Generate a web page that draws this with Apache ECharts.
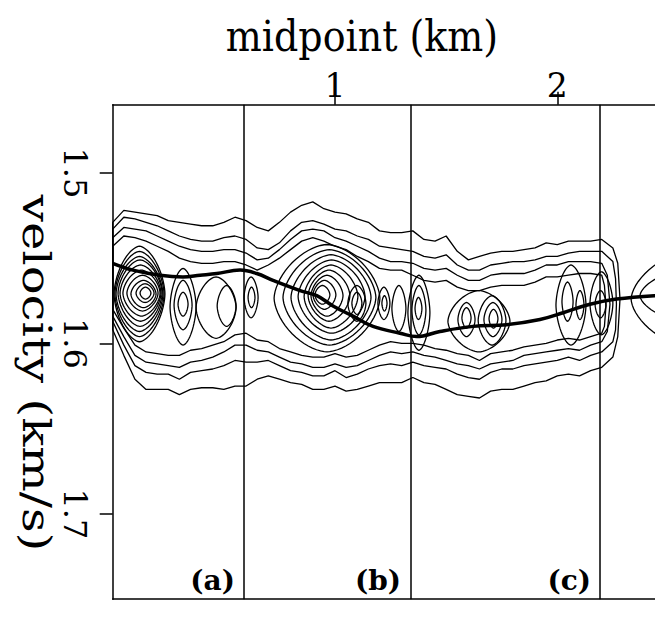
<!DOCTYPE html>
<html>
<head>
<meta charset="utf-8">
<script src="https://cdn.jsdelivr.net/npm/echarts@6/dist/echarts.min.js"></script>
<style>
  html, body { margin: 0; padding: 0; background: #fff; }
  #chart { width: 655px; height: 634px; }
</style>
</head>
<body>
<div id="chart"></div>
<script>
// midpoint samples (km) for the outer contour bands
const midpoints = [0, 0.05, 0.1, 0.15, 0.2, 0.25, 0.3, 0.35, 0.4, 0.45,
  0.5, 0.55, 0.6, 0.65, 0.7, 0.75, 0.8, 0.85, 0.9, 0.95,
  1.0, 1.05, 1.1, 1.15, 1.2, 1.25, 1.3, 1.35, 1.4, 1.45,
  1.5, 1.55, 1.6, 1.65, 1.7, 1.75, 1.8, 1.85, 1.9, 1.95,
  2.0, 2.05, 2.1, 2.15, 2.2, 2.25];

// outer contours: upper and lower edge (km/s) at each midpoint
const band1Top = [1.529, 1.522, 1.523, 1.524, 1.525, 1.528, 1.529, 1.530, 1.531, 1.531,
  1.529, 1.526, 1.528, 1.532, 1.534, 1.529, 1.523, 1.519, 1.517, 1.521,
  1.523, 1.524, 1.527, 1.529, 1.534, 1.535, 1.535, 1.534, 1.539, 1.540,
  1.537, 1.546, 1.551, 1.549, 1.547, 1.546, 1.546, 1.545, 1.544, 1.541,
  1.542, 1.540, 1.540, 1.540, 1.539, 1.544];
const band1Bottom = [1.592, 1.607, 1.621, 1.627, 1.627, 1.627, 1.630, 1.627, 1.626, 1.626,
  1.627, 1.625, 1.625, 1.621, 1.619, 1.621, 1.623, 1.624, 1.627, 1.627,
  1.625, 1.628, 1.627, 1.625, 1.623, 1.623, 1.623, 1.620, 1.623, 1.624,
  1.627, 1.630, 1.631, 1.632, 1.628, 1.627, 1.627, 1.625, 1.623, 1.622,
  1.619, 1.618, 1.619, 1.616, 1.614, 1.608];
const band1Cap = [[2.272, 1.553], [2.282, 1.574], [2.272, 1.596]];

const band2Top = [1.533, 1.526, 1.527, 1.529, 1.531, 1.534, 1.537, 1.539, 1.540, 1.540,
  1.538, 1.537, 1.539, 1.544, 1.545, 1.541, 1.534, 1.529, 1.528, 1.530,
  1.533, 1.534, 1.537, 1.539, 1.543, 1.544, 1.545, 1.546, 1.549, 1.550,
  1.548, 1.554, 1.557, 1.557, 1.554, 1.553, 1.552, 1.552, 1.551, 1.549,
  1.549, 1.547, 1.546, 1.546, 1.546, 1.552];
const band2Bottom = [1.587, 1.601, 1.613, 1.617, 1.618, 1.618, 1.621, 1.617, 1.616, 1.615,
  1.613, 1.610, 1.611, 1.611, 1.610, 1.613, 1.616, 1.617, 1.619, 1.619,
  1.616, 1.620, 1.618, 1.615, 1.613, 1.612, 1.613, 1.611, 1.613, 1.614,
  1.615, 1.618, 1.620, 1.621, 1.617, 1.615, 1.615, 1.613, 1.612, 1.611,
  1.610, 1.608, 1.610, 1.607, 1.605, 1.599];
const band2Cap = [[2.262, 1.562], [2.266, 1.577], [2.262, 1.592]];

const band3Top = [1.538, 1.532, 1.533, 1.534, 1.537, 1.540, 1.543, 1.545, 1.546, 1.546,
  1.545, 1.545, 1.547, 1.551, 1.550, 1.545, 1.539, 1.534, 1.533, 1.534,
  1.538, 1.540, 1.543, 1.546, 1.550, 1.552, 1.552, 1.553, 1.556, 1.557,
  1.556, 1.560, 1.563, 1.563, 1.560, 1.559, 1.559, 1.559, 1.557, 1.554,
  1.554, 1.552, 1.552, 1.552, 1.553];
const band3Bottom = [1.584, 1.596, 1.607, 1.611, 1.612, 1.613, 1.614, 1.611, 1.610, 1.608,
  1.605, 1.601, 1.601, 1.604, 1.605, 1.608, 1.611, 1.612, 1.614, 1.614,
  1.612, 1.614, 1.613, 1.610, 1.607, 1.605, 1.606, 1.605, 1.607, 1.608,
  1.610, 1.612, 1.613, 1.615, 1.612, 1.611, 1.610, 1.607, 1.606, 1.605,
  1.604, 1.603, 1.604, 1.601, 1.599];
const band3Cap = [[2.225, 1.560], [2.237, 1.577], [2.225, 1.593]];

const band4Top = [1.543, 1.537, 1.538, 1.540, 1.543, 1.546, 1.550, 1.552, 1.553, 1.553,
  1.552, 1.552, 1.554, 1.557, 1.554, 1.550, 1.545, 1.540, 1.538, 1.540,
  1.543, 1.545, 1.549, 1.552, 1.556, 1.557, 1.557, 1.560, 1.563, 1.564,
  1.563, 1.567, 1.569, 1.569, 1.567, 1.566, 1.566, 1.566, 1.564, 1.561,
  1.561, 1.560, 1.559, 1.559, 1.560];
const band4Bottom = [1.580, 1.591, 1.601, 1.605, 1.606, 1.607, 1.607, 1.604, 1.603, 1.601,
  1.599, 1.595, 1.594, 1.598, 1.599, 1.603, 1.605, 1.607, 1.608, 1.608,
  1.606, 1.608, 1.607, 1.604, 1.601, 1.599, 1.600, 1.600, 1.601, 1.603,
  1.604, 1.606, 1.607, 1.610, 1.606, 1.605, 1.604, 1.602, 1.601, 1.600,
  1.598, 1.597, 1.598, 1.596, 1.594];
const band4Cap = [[2.212, 1.566], [2.219, 1.578], [2.212, 1.590]];

// closed inner contours: [midpoint left, midpoint right, velocity top, velocity bottom]
const rings = [
  // (a) main peak
  [0.006, 0.235, 1.543, 1.599], [0.010, 0.231, 1.546, 1.596], [0.015, 0.226, 1.549, 1.593],
  [0.024, 0.222, 1.551, 1.590], [0.033, 0.217, 1.554, 1.587], [0.046, 0.213, 1.557, 1.584],
  [0.064, 0.204, 1.560, 1.581], [0.082, 0.195, 1.563, 1.579], [0.105, 0.186, 1.565, 1.576],
  [0.123, 0.172, 1.567, 1.574],
  // (a) side peaks
  [0.258, 0.375, 1.556, 1.601], [0.276, 0.357, 1.563, 1.592], [0.294, 0.339, 1.570, 1.584],
  [0.375, 0.555, 1.561, 1.597], [0.470, 0.555, 1.566, 1.590],
  [0.591, 0.654, 1.561, 1.585], [0.609, 0.640, 1.567, 1.579],
  // (b) main peak
  [0.726, 1.202, 1.542, 1.605], [0.766, 1.184, 1.545, 1.601], [0.802, 1.162, 1.548, 1.598],
  [0.834, 1.135, 1.551, 1.594], [0.861, 1.103, 1.554, 1.591], [0.879, 1.067, 1.557, 1.587],
  [0.892, 1.036, 1.560, 1.584], [0.901, 1.004, 1.563, 1.580], [0.910, 0.977, 1.566, 1.577],
  // (b) side peaks
  [1.058, 1.139, 1.566, 1.587], [1.076, 1.121, 1.570, 1.583],
  [1.193, 1.247, 1.567, 1.586], [1.211, 1.234, 1.572, 1.581],
  [1.256, 1.319, 1.566, 1.593],
  // (c)
  [1.328, 1.427, 1.560, 1.604], [1.346, 1.409, 1.566, 1.595], [1.360, 1.391, 1.573, 1.586],
  [1.508, 1.787, 1.569, 1.605], [1.644, 1.769, 1.572, 1.601], [1.670, 1.751, 1.576, 1.596],
  [1.693, 1.733, 1.580, 1.591], [1.553, 1.630, 1.576, 1.596], [1.571, 1.612, 1.579, 1.591],
  [1.994, 2.129, 1.554, 1.601], [2.021, 2.071, 1.564, 1.587], [2.084, 2.120, 1.569, 1.586],
  [2.147, 2.250, 1.558, 1.595], [2.170, 2.219, 1.569, 1.585],
  // next panel, cut off at the right
  [2.332, 2.912, 1.545, 1.603], [2.372, 2.844, 1.556, 1.588]
];

// picked velocity function
const pickMid = [0, 0.091, 0.213, 0.316, 0.393, 0.468, 0.573, 0.648, 0.721, 0.843,
  0.918, 0.991, 1.081, 1.171, 1.292, 1.368, 1.472, 1.621, 1.772, 1.922,
  2.026, 2.147, 2.267, 2.440, 2.640];
const pickVel = [1.553, 1.557, 1.560, 1.561, 1.560, 1.559, 1.557, 1.559, 1.563, 1.569,
  1.572, 1.578, 1.584, 1.590, 1.594, 1.596, 1.593, 1.590, 1.589, 1.586,
  1.582, 1.577, 1.574, 1.572, 1.571];

const panelEdges = [0.587, 1.336, 2.188];
const panelNames = ['(a)', '(b)', '(c)'];
const velTicks = [1.5, 1.6, 1.7];
const midTicks = [1, 2];

const FONT = 'DejaVu Serif';

function bandPath(top, bottom, cap) {
  const pts = top.map((v, i) => [midpoints[i], v]);
  cap.forEach(p => pts.push(p));
  for (let i = bottom.length - 1; i >= 0; i--) pts.push([midpoints[i], bottom[i]]);
  pts.push(pts[0]);
  return pts;
}

const bands = [
  bandPath(band1Top, band1Bottom, band1Cap),
  bandPath(band2Top, band2Bottom, band2Cap),
  bandPath(band3Top, band3Bottom, band3Cap),
  bandPath(band4Top, band4Bottom, band4Cap)
];

const series = bands.map(b => ({
  type: 'line',
  data: b,
  showSymbol: false,
  silent: true,
  lineStyle: { color: '#000', width: 1.3 }
}));

series.push({
  type: 'custom',
  data: rings,
  silent: true,
  clip: true,
  encode: { x: [0, 1], y: [2, 3] },
  renderItem: function (params, api) {
    const a = api.coord([api.value(0), api.value(2)]);
    const b = api.coord([api.value(1), api.value(3)]);
    const cx = (a[0] + b[0]) / 2, cy = (a[1] + b[1]) / 2;
    const rx = Math.abs(b[0] - a[0]) / 2, ry = Math.abs(b[1] - a[1]) / 2;
    const pts = [];
    for (let k = 0; k < 72; k++) {
      const t = k / 72 * Math.PI * 2;
      const c = Math.cos(t), s = Math.sin(t);
      pts.push([cx + rx * Math.sign(c) * Math.pow(Math.abs(c), 1.2),
                cy + ry * Math.sign(s) * Math.pow(Math.abs(s), 1.2)]);
    }
    return {
      type: 'polygon',
      shape: { points: pts },
      style: { fill: 'none', stroke: '#000', lineWidth: 1.3 }
    };
  }
});

series.push({
  type: 'line',
  data: pickMid.map((m, i) => [m, pickVel[i]]),
  showSymbol: false,
  smooth: 0.4,
  silent: true,
  lineStyle: { color: '#000', width: 3.5 },
  markLine: {
    silent: true,
    symbol: 'none',
    label: { show: false },
    lineStyle: { color: '#000', width: 1.5, type: 'solid' },
    data: panelEdges.map(x => ({ xAxis: x }))
  }
});

const chart = echarts.init(document.getElementById('chart'), null, { renderer: 'svg' });
chart.setOption({
  animation: false,
  backgroundColor: '#fff',
  grid: { left: 112.7, top: 104.7, right: 0, bottom: 34.8 },
  xAxis: [{
    type: 'value',
    position: 'top',
    min: 0, max: 2.4395,
    axisLine: { show: true, lineStyle: { color: '#000', width: 1.5 } },
    axisTick: { show: true, length: 13, customValues: midTicks, lineStyle: { color: '#000', width: 1.5 } },
    axisLabel: { customValues: midTicks, margin: 3, color: '#000', fontFamily: FONT, fontSize: 33 },
    splitLine: { show: false }
  }, {
    type: 'value',
    position: 'bottom',
    min: 0, max: 2.4395,
    axisLine: { show: true, onZero: false, lineStyle: { color: '#000', width: 1.5 } },
    axisTick: { show: false },
    axisLabel: { show: false },
    splitLine: { show: false }
  }],
  yAxis: {
    type: 'value',
    inverse: true,
    min: 1.46, max: 1.75,
    axisLine: { show: true, lineStyle: { color: '#000', width: 1.5 } },
    axisTick: { show: true, length: 13, customValues: velTicks, lineStyle: { color: '#000', width: 1.5 } },
    axisLabel: { customValues: velTicks, rotate: -90, margin: 22, color: '#000', fontFamily: FONT, fontSize: 32 },
    splitLine: { show: false }
  },
  graphic: [
    { type: 'text', x: 362, y: 36, scaleY: 1.15, style: { text: 'midpoint (km)', font: '38px "DejaVu Serif"', fill: '#000', align: 'center', verticalAlign: 'middle' } },
    { type: 'text', x: 37, y: 373, rotation: -Math.PI / 2, scaleX: 1.2, style: { text: 'velocity (km/s)', font: '40px "DejaVu Serif"', fill: '#000', align: 'center', verticalAlign: 'middle' } }
  ].concat(panelNames.map((t, i) => ({
    type: 'text',
    x: [235, 401, 591][i], y: 580,
    style: { text: t, font: 'bold 28px "DejaVu Serif"', fill: '#000', align: 'right', verticalAlign: 'middle' }
  }))),
  series: series
});
</script>
</body>
</html>
